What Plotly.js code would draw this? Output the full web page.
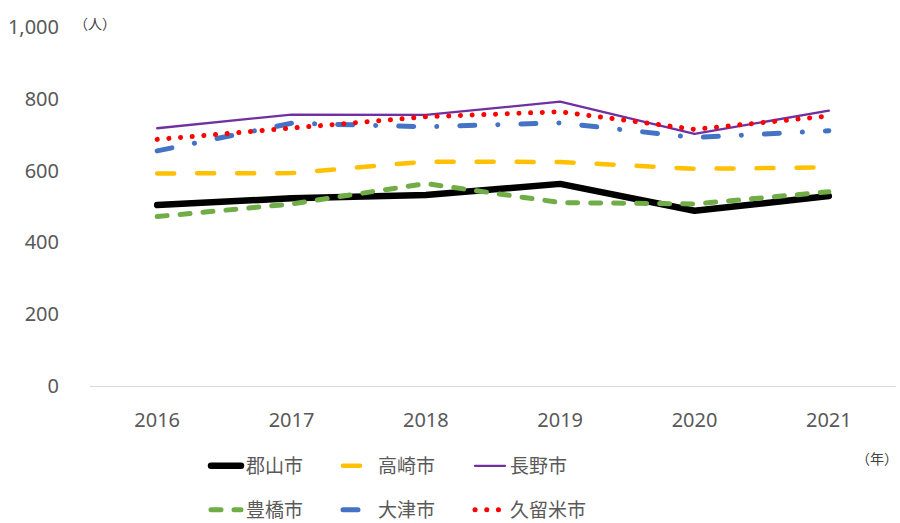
<!DOCTYPE html>
<html>
<head>
<meta charset="utf-8">
<script src="https://cdn.plot.ly/plotly-3.0.1.min.js"></script>
<style>
html,body{margin:0;padding:0;background:#fff;}
.scatterlayer path.js-line, .legendlines path { stroke-linecap: round; stroke-linejoin: round; }
</style>
</head>
<body>
<div id="chart" style="width:900px;height:523px;"></div>
<script>
const years = ['2016', '2017', '2018', '2019', '2020', '2021'];
const koriyama = [504, 523, 532, 563, 488, 529];
const takasaki = [592, 593, 625, 624, 605, 609];
const nagano = [718, 756, 755, 792, 702, 767];
const toyohashi = [472, 507, 564, 511, 507, 541];
const otsu = [655, 732, 722, 733, 692, 711];
const kurume = [687, 720, 750, 764, 715, 752];
const seriesNames = ['郡山市', '高崎市', '長野市', '豊橋市', '大津市', '久留米市'];
const yTicks = [0, 200, 400, 600, 800, 1000];

const FONT = 'Noto Sans, Noto Sans CJK JP, sans-serif';

const traces = [
  {x: years, y: koriyama, name: seriesNames[0], legend: 'legend', line: {color: '#000000', width: 6.5}},
  {x: years, y: takasaki, name: seriesNames[1], legend: 'legend', line: {color: '#FFC000', width: 4.5, dash: '17px,23px'}},
  {x: years, y: nagano, name: seriesNames[2], legend: 'legend', line: {color: '#7030A0', width: 2.3}},
  {x: years, y: toyohashi, name: seriesNames[3], legend: 'legend2', line: {color: '#70AD47', width: 5, dash: '10px,13px'}},
  {x: years, y: otsu, name: seriesNames[4], legend: 'legend2', line: {color: '#4472C4', width: 5, dash: '15px,23px,0.1px,23px'}},
  {x: years, y: kurume, name: seriesNames[5], legend: 'legend2', line: {color: '#FF0000', width: 5, dash: '0.1px,11.6px'}}
].map(t => Object.assign({type: 'scatter', mode: 'lines', hoverinfo: 'skip'}, t));

const legendCommon = {
  orientation: 'h', xref: 'container', yref: 'container',
  xanchor: 'left', yanchor: 'middle',
  entrywidth: 87, entrywidthmode: 'pixels',
  font: {family: FONT, size: 19, color: '#595959'},
  bgcolor: 'rgba(0,0,0,0)', tracegroupgap: 0, itemclick: false
};

const layout = {
  width: 900, height: 523,
  margin: {l: 90, r: 4, t: 27, b: 137},
  paper_bgcolor: '#ffffff', plot_bgcolor: '#ffffff',
  font: {family: FONT, color: '#595959'},
  showlegend: true,
  xaxis: {
    type: 'category', categoryorder: 'array', categoryarray: years,
    range: [-0.5, years.length - 0.5],
    showline: true, linecolor: '#d9d9d9', linewidth: 1.3,
    showgrid: false, zeroline: false,
    ticks: 'outside', ticklen: 16, tickcolor: 'rgba(0,0,0,0)',
    tickfont: {family: FONT, size: 20, color: '#595959'}
  },
  yaxis: {
    range: [0, 1000], tickvals: yTicks, tickformat: ',d',
    showline: false, showgrid: false, zeroline: false,
    ticks: 'outside', ticklen: 26, tickcolor: 'rgba(0,0,0,0)',
    tickfont: {family: FONT, size: 20, color: '#595959'}
  },
  legend: Object.assign({}, legendCommon, {x: 206 / 900, y: 1 - 466 / 523}),
  legend2: Object.assign({}, legendCommon, {x: 206 / 900, y: 1 - 510 / 523}),
  annotations: [
    {xref: 'paper', yref: 'paper', x: 0, y: 1, xshift: -18, yshift: 4, xanchor: 'left', yanchor: 'middle',
     text: '（人）', showarrow: false, font: {family: FONT, size: 14, color: '#404040'}},
    {xref: 'paper', yref: 'paper', x: 1, y: 0, xshift: 4, yshift: -72, xanchor: 'right', yanchor: 'middle',
     text: '（年）', showarrow: false, font: {family: FONT, size: 14, color: '#404040'}}
  ]
};

Plotly.newPlot('chart', traces, layout, {displayModeBar: false, staticPlot: true});
</script>
</body>
</html>
